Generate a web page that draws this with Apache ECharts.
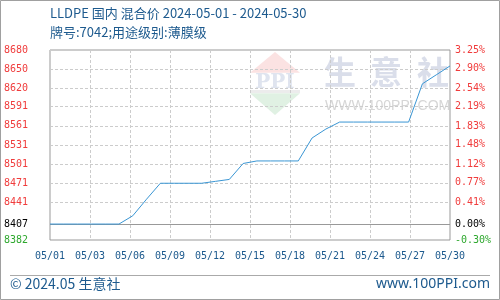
<!DOCTYPE html>
<html>
<head>
<meta charset="utf-8">
<script src="https://cdn.jsdelivr.net/npm/echarts@6/dist/echarts.min.js"></script>
<style>
html,body{margin:0;padding:0;background:#fff;}
#chart{width:500px;height:300px;}
</style>
</head>
<body>
<div id="chart"></div>
<script>
const titleLine1 = 'LLDPE 国内 混合价 2024-05-01 - 2024-05-30';
const titleLine2 = '牌号:7042;用途级别:薄膜级';
const footerLeft = '© 2024.05 生意社';
const footerRight = 'www.100PPI.com';

const dates = ['05/01','05/02','05/03','05/04','05/05','05/06','05/07','05/08','05/09','05/10',
               '05/11','05/12','05/13','05/14','05/15','05/16','05/17','05/18','05/19','05/20',
               '05/21','05/22','05/23','05/24','05/25','05/26','05/27','05/28','05/29','05/30'];
const prices = [8407, 8407, 8407, 8407, 8407, 8407, 8420, 8446, 8471, 8471,
                8471, 8471, 8474, 8477, 8502, 8506, 8506, 8506, 8506, 8542,
                8556, 8567, 8567, 8567, 8567, 8567, 8567, 8627, 8641, 8655];
const baseValue = 8407;
const leftTicks = [8382, 8407, 8441, 8471, 8501, 8531, 8561, 8591, 8620, 8650, 8680];
const rightTicks = [-0.30, 0.00, 0.41, 0.77, 1.12, 1.48, 1.83, 2.19, 2.54, 2.90, 3.25];
const xLabelStep = 2.9;

const RED = '#f03c3c', GREEN = '#2ea82e', BLACK = '#000000', BLUE_TEXT = '#1d5a8e';

const chart = echarts.init(document.getElementById('chart'), null, {renderer: 'canvas'});

const seriesData = dates.map((d, i) => [i, prices[i]]);

const option = {
  animation: false,
  backgroundColor: '#ffffff',
  grid: {left: 50, right: 50, top: 50, bottom: 60, show: true, borderColor: '#999999', borderWidth: 1, backgroundColor: 'transparent'},
  xAxis: {
    type: 'value',
    min: 0,
    max: dates.length - 1,
    interval: xLabelStep,
    axisLine: {show: false},
    axisTick: {show: false},
    splitLine: {show: true, lineStyle: {color: '#cccccc', type: [3, 2], width: 1}},
    axisLabel: {
      margin: 11,
      color: BLUE_TEXT,
      fontFamily: 'DejaVu Sans Mono',
      fontSize: 10,
      showMinLabel: true,
      showMaxLabel: true,
      formatter: function (v) {
        let i = Math.floor(v + 1e-6);
        if (i > dates.length - 1) i = dates.length - 1;
        return dates[i];
      }
    }
  },
  yAxis: [
    {
      type: 'value',
      min: leftTicks[0],
      max: leftTicks[leftTicks.length - 1],
      axisLine: {show: false},
      axisTick: {show: false, customValues: leftTicks},
      splitLine: {show: true, lineStyle: {color: '#cccccc', type: [3, 2], width: 1}},
      axisLabel: {
        customValues: leftTicks,
        margin: 22,
        fontFamily: 'DejaVu Sans Mono',
        fontSize: 10,
        formatter: function (v) { return String(Math.round(v)); },
        color: function (v) {
          const n = Number(v);
          return n > baseValue ? RED : (n < baseValue ? GREEN : BLACK);
        }
      }
    },
    {
      type: 'value',
      min: rightTicks[0],
      max: rightTicks[rightTicks.length - 1],
      position: 'right',
      axisLine: {show: false},
      axisTick: {show: false, customValues: rightTicks},
      splitLine: {show: false},
      axisLabel: {
        customValues: rightTicks,
        margin: 5,
        fontFamily: 'DejaVu Sans Mono',
        fontSize: 10,
        formatter: function (v) { return Number(v).toFixed(2) + '%'; },
        color: function (v) {
          const n = Number(v);
          return n > 0.0001 ? RED : (n < -0.0001 ? GREEN : BLACK);
        }
      }
    }
  ],
  series: [{
    type: 'line',
    yAxisIndex: 0,
    data: seriesData,
    showSymbol: false,
    symbol: 'none',
    lineStyle: {color: '#3a96d4', width: 1},
    z: 5,
    markLine: {
      silent: true,
      symbol: 'none',
      label: {show: false},
      lineStyle: {color: '#999999', type: 'solid', width: 1},
      data: [{yAxis: baseValue}],
      z: 4
    }
  }],
  graphic: [
    {type: 'rect', z: 100, shape: {x: 0.5, y: 0.5, width: 499, height: 299}, style: {fill: 'none', stroke: '#a0a0a0', lineWidth: 1}},
    {type: 'text', z: 10, left: 50, top: 7, style: {text: titleLine1, fill: BLUE_TEXT, font: '13px "Noto Sans CJK SC"'}},
    {type: 'text', z: 10, left: 50, top: 26, style: {text: titleLine2, fill: BLUE_TEXT, font: '13px "Noto Sans CJK SC"'}},
    {type: 'line', z: 10, shape: {x1: 10, y1: 275.5, x2: 490, y2: 275.5}, style: {stroke: '#aaaaaa', lineWidth: 1}},
    {type: 'text', z: 10, left: 10, top: 277, style: {text: footerLeft, fill: BLUE_TEXT, font: '14px "Noto Sans CJK SC"'}},
    {type: 'text', z: 10, right: 10, top: 277, style: {text: footerRight, fill: BLUE_TEXT, font: '14px "Noto Sans"'}},
    // watermark
    {type: 'polygon', z: -1, shape: {points: [[250, 72.7], [300, 72.7], [275, 52]]}, style: {fill: '#fbe2e2'}},
    {type: 'text', z: -1, x: 275, y: 83, style: {text: 'PPI', fill: '#dfe4ef', font: 'bold 20px "DejaVu Serif"', align: 'center', verticalAlign: 'middle'}},
    {type: 'rect', z: -1, shape: {x: 250, y: 90, width: 50, height: 3}, style: {fill: '#ececec'}},
    {type: 'polygon', z: -1, shape: {points: [[250, 93.3], [300, 93.3], [275, 115]]}, style: {fill: '#e0f1e3'}},
    {type: 'text', z: -1, x: 340, y: 72, style: {text: '生', fill: '#dadeea', font: 'bold 32px "Noto Sans CJK SC"', align: 'center', verticalAlign: 'middle'}},
    {type: 'text', z: -1, x: 386, y: 72, style: {text: '意', fill: '#dadeea', font: 'bold 32px "Noto Sans CJK SC"', align: 'center', verticalAlign: 'middle'}},
    {type: 'text', z: -1, x: 433, y: 72, style: {text: '社', fill: '#dadeea', font: 'bold 32px "Noto Sans CJK SC"', align: 'center', verticalAlign: 'middle'}},
    {type: 'text', z: -1, left: 325, top: 99, style: {text: 'WWW.100PPI.COM', fill: '#d6d6d6', font: '14px "Liberation Sans"'}}
  ]
};
chart.setOption(option);
</script>
</body>
</html>
